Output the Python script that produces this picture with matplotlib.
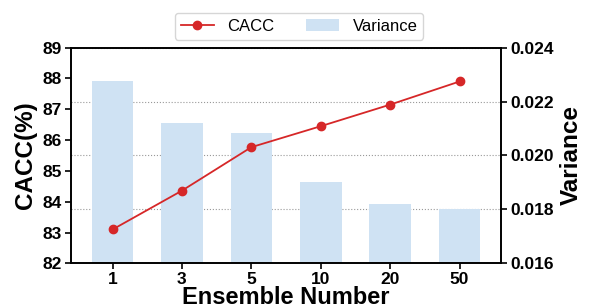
import matplotlib
matplotlib.use('Agg')
import matplotlib.pyplot as plt
import numpy as np

plt.rcParams['font.family'] = ['Liberation Sans', 'DejaVu Sans']

ensembles = ['1', '3', '5', '10', '20', '50']
cacc = [83.10, 84.36, 85.77, 86.45, 87.15, 87.90]
variance = [0.02276, 0.02121, 0.02083, 0.01902, 0.01820, 0.01800]

fig = plt.figure(figsize=(5.91, 3.07), dpi=100)
ax1 = fig.add_axes([0.120, 0.142, 0.728, 0.703])
ax2 = ax1.twinx()

x = np.arange(len(ensembles))

# bars on the right axis, drawn below the line
ax2.bar(x, variance, width=0.6, color='#cfe2f3', label='Variance', zorder=2)
ax2.set_ylim(0.016, 0.024)
ax2.set_yticks([0.016, 0.018, 0.020, 0.022, 0.024])
ax2.set_yticklabels(['0.016', '0.018', '0.020', '0.022', '0.024'])
ax2.grid(axis='y', linestyle=':', color='#999999', linewidth=0.8, zorder=0)
ax2.set_axisbelow(True)
ax2.set_ylabel('Variance', fontsize=17.5, fontweight='bold', labelpad=4)

ax1.set_zorder(ax2.get_zorder() + 1)
ax1.patch.set_visible(False)
ax1.plot(x, cacc, color='#d62728', marker='o', markersize=6, linewidth=1.3, label='CACC')
ax1.set_ylim(82, 89)
ax1.set_yticks(range(82, 90))
ax1.set_xlim(-0.6, 5.6)
ax1.set_xticks(x)
ax1.set_xticklabels(ensembles)
ax1.set_ylabel('CACC(%)', fontsize=17.5, fontweight='bold', labelpad=4)
ax1.set_xlabel('Ensemble Number', fontsize=17, fontweight='bold', labelpad=-1)

for a in (ax1, ax2):
    for lab in a.get_xticklabels() + a.get_yticklabels():
        lab.set_fontweight('bold')
        lab.set_fontsize(12.5)
    for s in a.spines.values():
        s.set_linewidth(1.2)
    a.tick_params(width=1.2, length=4, pad=2.5)

h1, l1 = ax1.get_legend_handles_labels()
h2, l2 = ax2.get_legend_handles_labels()
fig.legend(h1 + h2, l1 + l2, loc='upper center', bbox_to_anchor=(0.506, 0.985),
           ncol=2, fontsize=12, frameon=True, edgecolor='#cccccc',
           handlelength=2.0, columnspacing=1.9, borderpad=0.35)

fig.savefig('out.png', dpi=100)
